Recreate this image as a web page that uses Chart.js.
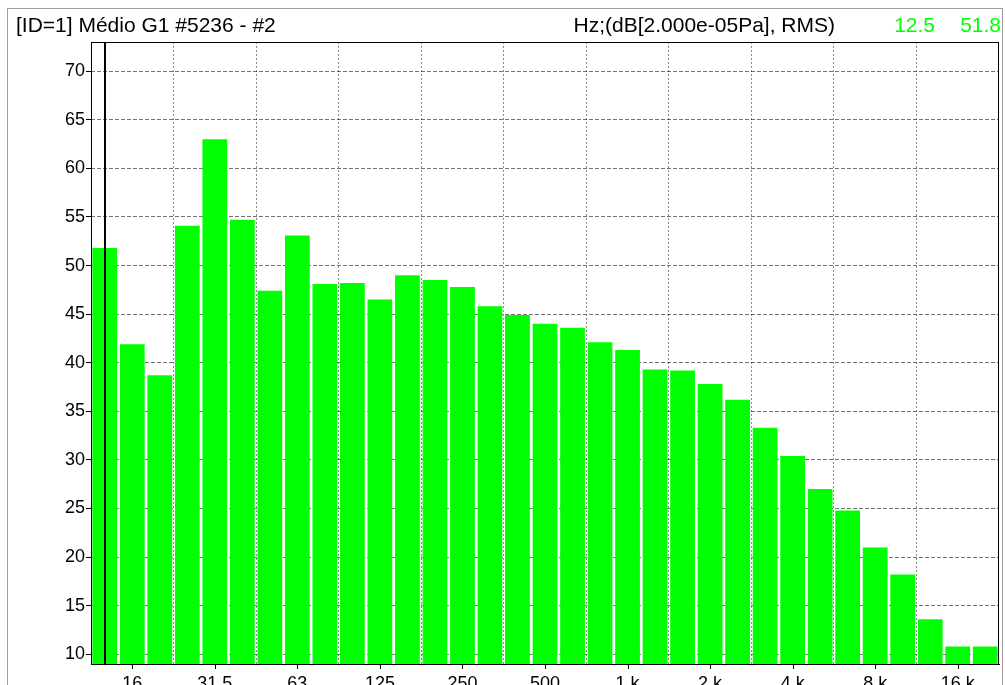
<!DOCTYPE html>
<html>
<head>
<meta charset="utf-8">
<script src="https://cdn.jsdelivr.net/npm/chart.js@4.4.1/dist/chart.umd.min.js"></script>
<style>
  html, body { margin: 0; padding: 0; background: #fff; overflow: hidden; }
  #wrap { position: relative; width: 1005px; height: 685px; font-family: "Liberation Sans", Arial, sans-serif; }
  #frame { position: absolute; left: 7px; top: 8px; width: 994px; height: 700px; border: 1px solid #a0a0a0; border-bottom: none; }
  #chart { position: absolute; left: 0; top: 0; }
  .hdr { position: absolute; top: 13px; font-size: 21px; line-height: 24px; white-space: nowrap; color: #000; }
  .green { color: #00ff00; }
</style>
</head>
<body>
<div id="wrap">
  <div id="frame"></div>
  <canvas id="chart" width="1005" height="685"></canvas>
  <div class="hdr" id="title" style="left:16px">[ID=1] Médio G1 #5236 - #2</div>
  <div class="hdr" id="units" style="right:170px">Hz;(dB[2.000e-05Pa], RMS)</div>
  <div class="hdr green" id="cursor-freq" style="right:70px"></div>
  <div class="hdr green" id="cursor-level" style="right:4px"></div>
</div>
<script>
  // third-octave bands, Hz
  const bandLabels = [
    "12.5", "16", "20", "25", "31.5", "40", "50", "63", "80", "100", "125",
    "160", "200", "250", "315", "400", "500", "630", "800", "1 k", "1.25 k",
    "1.6 k", "2 k", "2.5 k", "3.15 k", "4 k", "5 k", "6.3 k", "8 k", "10 k",
    "12.5 k", "16 k", "20 k",
  ];
  // dB re 20 µPa, RMS
  const levels = [
    51.8, 41.9, 38.7, 54.1, 63.0, 54.7, 47.4, 53.1, 48.1, 48.2, 46.5,
    49.0, 48.5, 47.8, 45.8, 44.9, 44.0, 43.6, 42.1, 41.3, 39.3,
    39.2, 37.8, 36.2, 33.3, 30.4, 27.0, 24.8, 21.0, 18.2,
    13.6, 10.8, 10.8,
  ];
  const shownTicks = ["16", "31.5", "63", "125", "250", "500", "1 k", "2 k", "4 k", "8 k", "16 k"];
  const yTicks = [10, 15, 20, 25, 30, 35, 40, 45, 50, 55, 60, 65, 70];
  const yRange = [9, 73];
  const cursorBand = "12.5";

  const cursorIndex = bandLabels.indexOf(cursorBand);
  document.getElementById("cursor-freq").textContent = cursorBand;
  document.getElementById("cursor-level").textContent = levels[cursorIndex].toFixed(1);

  const overlay = {
    id: "overlay",
    afterDatasetsDraw(chart) {
      const { ctx, chartArea: area, scales } = chart;
      const x = scales.x;
      ctx.save();
      // cursor
      const cx = Math.round(x.getPixelForValue(cursorIndex));
      ctx.strokeStyle = "#000";
      ctx.lineWidth = 2;
      ctx.beginPath();
      ctx.moveTo(cx, area.top);
      ctx.lineTo(cx, area.bottom);
      ctx.stroke();
      ctx.restore();
    },
    afterDraw(chart) {
      const { ctx, chartArea: area, scales } = chart;
      const x = scales.x;
      ctx.save();
      ctx.strokeStyle = "#000";
      ctx.lineWidth = 1;
      ctx.strokeRect(area.left + 0.5, area.top + 0.5, area.right - area.left - 1, area.bottom - area.top);
      // x tick marks under the labelled bands
      ctx.beginPath();
      shownTicks.forEach((label) => {
        const px = Math.round(x.getPixelForValue(bandLabels.indexOf(label))) + 0.5;
        ctx.moveTo(px, area.bottom);
        ctx.lineTo(px, area.bottom + 5);
      });
      ctx.stroke();
      ctx.restore();
    },
  };

  new Chart(document.getElementById("chart"), {
    type: "bar",
    data: {
      labels: bandLabels,
      datasets: [{
        data: levels,
        backgroundColor: "#00ff00",
        borderWidth: 0,
        categoryPercentage: 1,
        barPercentage: 0.9,
      }],
    },
    options: {
      responsive: false,
      animation: false,
      layout: { padding: { left: 0, right: 6, top: 42, bottom: 0 } },
      plugins: { legend: { display: false }, tooltip: { enabled: false } },
      scales: {
        x: {
          type: "category",
          offset: true,
          afterFit(scale) { scale.height = 21; },
          grid: {
            offset: true,
            drawTicks: false,
            color: (c) => (c.index > 0 && c.index < bandLabels.length && c.index % 3 === 0 ? "#8c8c8c" : "transparent"),
          },
          border: { display: true, color: "#000", dash: [2, 2] },
          ticks: {
            autoSkip: false,
            maxRotation: 0,
            padding: 9,
            color: "#000",
            font: { family: "Liberation Sans", size: 18 },
            callback(value) {
              const label = bandLabels[value];
              return shownTicks.includes(label) ? label : "";
            },
          },
        },
        y: {
          min: yRange[0],
          max: yRange[1],
          z: 1,
          afterFit(scale) { scale.width = 91; },
          afterBuildTicks(scale) { scale.ticks = yTicks.map((v) => ({ value: v })); },
          grid: { color: "rgba(0,0,0,0.55)", tickColor: "#000", tickLength: 5 },
          border: { display: false, dash: [4, 2] },
          ticks: {
            padding: 1,
            color: "#000",
            font: { family: "Liberation Sans", size: 18 },
          },
        },
      },
    },
    plugins: [overlay],
  });
</script>
</body>
</html>
